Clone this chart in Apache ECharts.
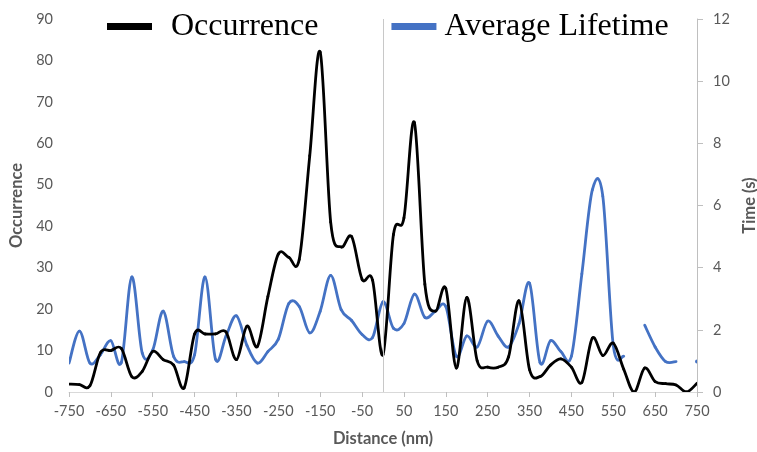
<!DOCTYPE html>
<html>
<head>
<meta charset="utf-8">
<script src="https://cdn.jsdelivr.net/npm/echarts@6/dist/echarts.min.js"></script>
<style>html,body{margin:0;padding:0;background:#fff;}#chart{width:757px;height:452px;}</style>
</head>
<body>
<div id="chart"></div>
<script>
const distances = [-750,-725,-700,-675,-650,-625,-600,-575,-550,-525,-500,-475,-450,-425,-400,-375,-350,-325,-300,-275,-250,-225,-200,-175,-150,-125,-100,-75,-50,-25,0,25,50,75,100,125,150,175,200,225,250,275,300,325,350,375,400,425,450,475,500,525,550,575,600,625,650,675,700,725,750];
const occurrence = [1.9,1.8,1.5,9.5,10,10.5,3.7,5,9.8,7.8,6.5,1,14,14,14,14.5,7.8,15.9,11,23,33.3,32.5,32,57,82,41,35,37.5,27.2,27,9,38,42,65,26,19.5,25,5.8,22.8,7.5,6,6,8.5,22,5.4,3.7,6.5,8,6,2.3,13,8.8,11.8,5.5,0,5.8,2.5,2,1.7,0,2.1];
const lifetime = [0.93,1.96,0.93,1.2,1.65,0.95,3.7,1.25,1.35,2.6,1.14,0.98,1.2,3.7,1.05,1.8,2.45,1.5,0.93,1.3,1.7,2.85,2.75,1.9,2.6,3.75,2.65,2.3,1.85,1.75,2.9,2.05,2.2,3.15,2.4,2.6,2.75,1.15,1.8,1.45,2.28,1.8,1.45,2.2,3.5,0.95,1.65,1.3,1.15,3.8,6.5,6.3,1.5,1.15,null,2.15,1.45,0.98,0.98,null,0.98];
const xTickLabels = ['-750','-650','-550','-450','-350','-250','-150','-50','50','150','250','350','450','550','650','750'];

// Smooth (Catmull-Rom style, like Excel's smoothed line) segment renderer, using the axes' own scales via api.coord
function smoothRenderer(xs, ys, color, width) {
  return function (params, api) {
    const i = params.dataIndex;
    const ok = k => k >= 0 && k < xs.length && ys[k] !== null;
    if (!ok(i)) return null;
    const pt = k => api.coord([xs[k], ys[k]]);
    const P1 = pt(i);
    if (!ok(i + 1)) {
      if (!ok(i - 1)) {
        return { type: 'circle', shape: { cx: P1[0], cy: P1[1], r: 2 }, style: { fill: color } };
      }
      return null;
    }
    const P2 = pt(i + 1);
    const P0 = ok(i - 1) ? pt(i - 1) : P1;
    const P3 = ok(i + 2) ? pt(i + 2) : P2;
    const t = 1 / 6;
    return {
      type: 'bezierCurve',
      shape: {
        x1: P1[0], y1: P1[1], x2: P2[0], y2: P2[1],
        cpx1: P1[0] + (P2[0] - P0[0]) * t, cpy1: P1[1] + (P2[1] - P0[1]) * t,
        cpx2: P2[0] - (P3[0] - P1[0]) * t, cpy2: P2[1] - (P3[1] - P1[1]) * t
      },
      style: { stroke: color, lineWidth: width, fill: null, lineCap: 'round' }
    };
  };
}

const gray = '#595959';
const labelFont = 'Lato';
const chart = echarts.init(document.getElementById('chart'));
chart.setOption({
  animation: false,
  backgroundColor: '#fff',
  grid: { left: 69, right: 60, top: 19, bottom: 60, outerBoundsMode: 'none', containLabel: false },
  legend: {
    left: 102, top: 5,
    itemWidth: 45, itemHeight: 7, itemGap: 73,
    icon: 'rect',
    textStyle: { fontFamily: 'Liberation Serif', fontSize: 32, color: '#000', lineHeight: 33, padding: [0, 0, 0, 14] },
    data: [
      { name: 'Occurrence', textStyle: { padding: [0, 0, 0, 14] } },
      { name: 'Average Lifetime', textStyle: { padding: [0, 0, 0, 3] } }
    ]
  },
  xAxis: [
    { type: 'value', min: -750, max: 750, show: false },
    {
      type: 'category', data: xTickLabels, boundaryGap: false, position: 'bottom',
      axisLine: { show: true, lineStyle: { color: '#d9d9d9', width: 1 } },
      axisTick: { show: true, length: 5, interval: 0, lineStyle: { color: '#bfbfbf' } },
      axisLabel: { interval: 0, color: gray, fontFamily: labelFont, fontSize: 14.5, margin: 12 },
      splitLine: { show: false },
      name: 'Distance (nm)', nameLocation: 'middle', nameGap: 38,
      nameTextStyle: { color: gray, fontFamily: labelFont, fontWeight: 'bold', fontSize: 16.5 }
    }
  ],
  yAxis: [
    {
      type: 'value', min: 0, max: 90, interval: 10, position: 'left',
      axisLine: { show: false }, axisTick: { show: false }, splitLine: { show: false },
      axisLabel: { color: gray, fontFamily: labelFont, fontSize: 14.5, margin: 16 },
      name: 'Occurrence', nameLocation: 'middle', nameGap: 40, nameRotate: 90,
      nameTextStyle: { color: gray, fontFamily: labelFont, fontWeight: 'bold', fontSize: 16.5 }
    },
    {
      type: 'value', min: 0, max: 12, interval: 2, position: 'right',
      axisLine: { show: true, lineStyle: { color: '#bfbfbf', width: 1 } },
      axisTick: { show: true, length: 6, inside: false, lineStyle: { color: '#bfbfbf' } },
      splitLine: { show: false },
      axisLabel: { color: gray, fontFamily: labelFont, fontSize: 14.5, margin: 16 },
      name: 'Time (s)', nameLocation: 'middle', nameGap: 44, nameRotate: 90,
      nameTextStyle: { color: gray, fontFamily: labelFont, fontWeight: 'bold', fontSize: 16.5 }
    }
  ],
  series: [
    {
      name: 'zeroLine', type: 'line', xAxisIndex: 0, yAxisIndex: 0, data: [],
      silent: true,
      markLine: {
        silent: true, symbol: ['none', 'none'], label: { show: false },
        lineStyle: { color: '#c8c8c8', type: 'solid', width: 1 },
        data: [{ xAxis: 0 }]
      }
    },
    {
      name: 'Average Lifetime', type: 'custom', xAxisIndex: 0, yAxisIndex: 1, clip: true,
      data: distances.map((d, i) => [d, lifetime[i] === null ? '-' : lifetime[i]]),
      encode: { x: 0, y: 1 },
      itemStyle: { color: '#4472C4' },
      renderItem: smoothRenderer(distances, lifetime, '#4472C4', 2.8),
      z: 2
    },
    {
      name: 'Occurrence', type: 'custom', xAxisIndex: 0, yAxisIndex: 0, clip: true,
      data: distances.map((d, i) => [d, occurrence[i]]),
      encode: { x: 0, y: 1 },
      itemStyle: { color: '#000000' },
      renderItem: smoothRenderer(distances, occurrence, '#000000', 2.8),
      z: 3
    }
  ]
});
</script>
</body>
</html>
